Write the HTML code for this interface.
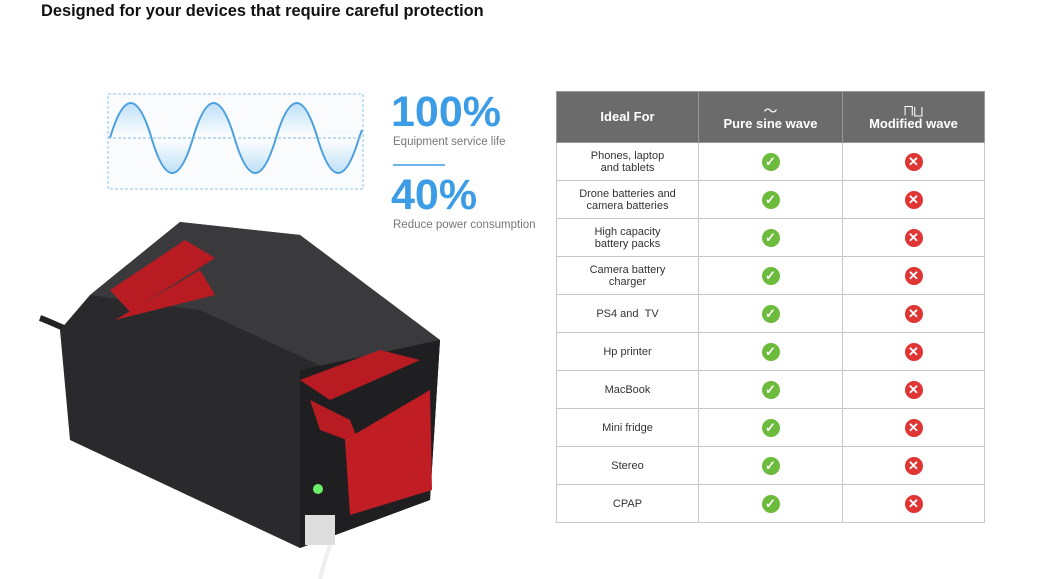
<!DOCTYPE html><html><head><style>
body{margin:0;width:1045px;height:579px;background:#fff;position:relative;overflow:hidden;font-family:"Liberation Sans",sans-serif}
h1{position:absolute;left:41px;top:2px;margin:0;font-size:16.4px;font-weight:bold;color:#111}
.big{position:absolute;color:#3c9de6;font-weight:bold;font-size:43px;line-height:48px}
.sub{position:absolute;color:#777;font-size:11.5px}
table{position:absolute;left:556px;top:91px;border-collapse:collapse;width:429px}
td,th{border:1px solid #c8c8c8;text-align:center;font-size:11px;color:#333;padding:0;line-height:12px}
th{background:#6b6b6b;color:#fff;font-size:13px;height:50px;border-color:#999}
td{height:37px}
.ok,.no{display:inline-block;width:18px;height:18px;border-radius:50%;color:#fff;font-size:13px;line-height:18px;font-weight:bold}
.ok{background:#6cbb3c}.no{background:#df3535}
</style></head><body>
<h1>Designed for your devices that require careful protection</h1>
<svg style="position:absolute;left:0;top:0" width="1045" height="579">
<defs><linearGradient id="g" x1="0" y1="0" x2="0" y2="1"><stop offset="0" stop-color="#bfe0f7"/><stop offset="0.5" stop-color="#fff"/><stop offset="1" stop-color="#bfe0f7"/></linearGradient></defs>
<rect x="108" y="94" width="255" height="95" fill="#fafbfd" stroke="#8ec4ec" stroke-dasharray="3,2"/>
<path d="M110 138 Q130.75 68 151.5 138 T193 138 T234.5 138 T276 138 T317.5 138 T359 138 L362 130" fill="url(#g)" stroke="#4b9fdf" stroke-width="2"/>
<line x1="108" y1="138" x2="363" y2="138" stroke="#7fb8e6" stroke-dasharray="3,2"/>
<line x1="393" y1="165" x2="445" y2="165" stroke="#3c9de6" stroke-width="1.5"/>
<path d="M40 318 C60 325,80 340,100 330" stroke="#222" stroke-width="6" fill="none"/>
<polygon points="90,295 180,222 300,235 440,340 430,500 300,548 70,440 60,330" fill="#2a2a2c"/>
<polygon points="90,295 180,222 300,235 440,340 330,370 200,310" fill="#3a3a3c"/>
<polygon points="300,370 440,340 430,500 300,548" fill="#1f1f21"/>
<polygon points="110,290 185,240 215,258 130,312" fill="#b81c22"/>
<polygon points="115,320 200,270 215,295" fill="#b81c22"/>
<polygon points="300,380 380,350 420,360 330,400" fill="#b81c22"/>
<polygon points="310,400 350,420 360,445 320,430" fill="#b81c22"/>
<polygon points="345,440 430,390 432,490 350,515" fill="#c01e24"/>
<circle cx="318" cy="489" r="5" fill="#6cf06c"/>
<rect x="305" y="515" width="30" height="30" fill="#ddd"/>
<path d="M330 545 C325 560,322 570,320 579" stroke="#eee" stroke-width="4" fill="none"/>
</svg>
<div class="big" style="left:391px;top:88px">100%</div>
<div class="sub" style="left:393px;top:136px">Equipment service life</div>
<div class="big" style="left:391px;top:171px">40%</div>
<div class="sub" style="left:393px;top:219px">Reduce power consumption</div>
<table>
<tr><th style="width:141px">Ideal For</th><th style="width:143px"><div style="font-size:14px;font-weight:normal;line-height:14px">～</div>Pure sine wave</th><th><div style="font-size:12px;font-weight:normal;line-height:14px">⨅⨆</div>Modified wave</th></tr>
<tr><td>Phones, laptop<br>and tablets</td><td><span class="ok">✓</span></td><td><span class="no">✕</span></td></tr>
<tr><td>Drone batteries and<br>camera batteries</td><td><span class="ok">✓</span></td><td><span class="no">✕</span></td></tr>
<tr><td>High capacity<br>battery packs</td><td><span class="ok">✓</span></td><td><span class="no">✕</span></td></tr>
<tr><td>Camera battery<br>charger</td><td><span class="ok">✓</span></td><td><span class="no">✕</span></td></tr>
<tr><td>PS4 and &nbsp;TV</td><td><span class="ok">✓</span></td><td><span class="no">✕</span></td></tr>
<tr><td>Hp printer</td><td><span class="ok">✓</span></td><td><span class="no">✕</span></td></tr>
<tr><td>MacBook</td><td><span class="ok">✓</span></td><td><span class="no">✕</span></td></tr>
<tr><td>Mini fridge</td><td><span class="ok">✓</span></td><td><span class="no">✕</span></td></tr>
<tr><td>Stereo</td><td><span class="ok">✓</span></td><td><span class="no">✕</span></td></tr>
<tr><td>CPAP</td><td><span class="ok">✓</span></td><td><span class="no">✕</span></td></tr>
</table>
</body></html>
